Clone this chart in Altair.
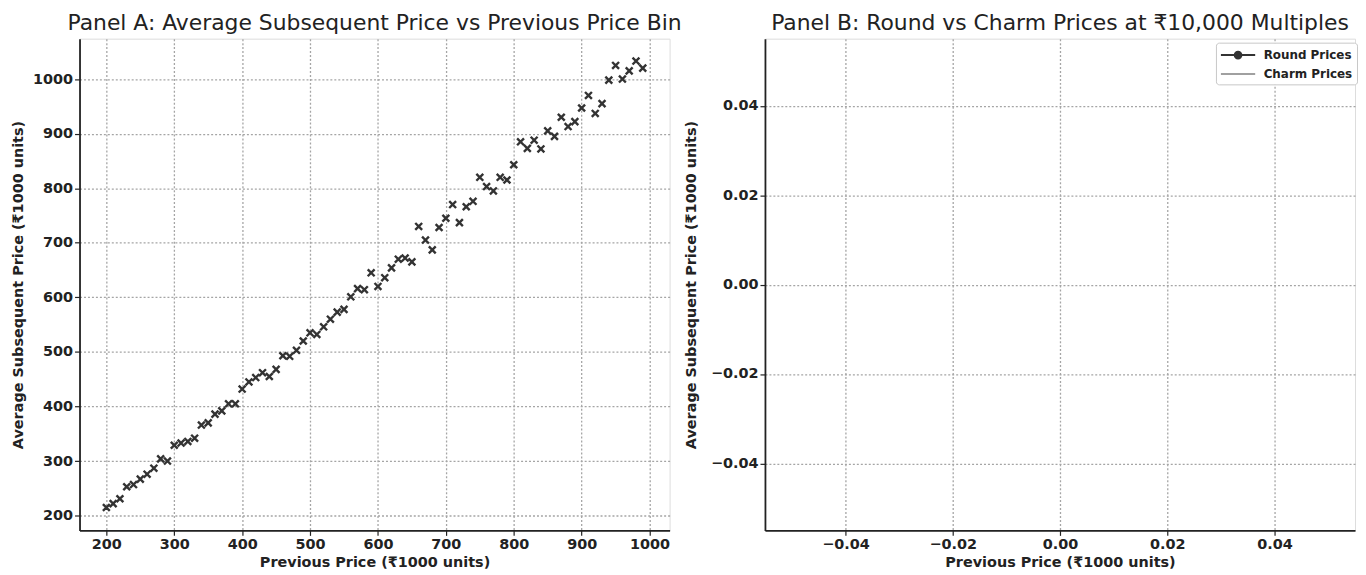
import altair as alt
import pandas as pd

# ---------------- data ----------------
prev_price = [200, 210, 220, 230, 240, 250, 260, 270, 280, 290,
              300, 310, 320, 330, 340, 350, 360, 370, 380, 390,
              400, 410, 420, 430, 440, 450, 460, 470, 480, 490,
              500, 510, 520, 530, 540, 550, 560, 570, 580, 590,
              600, 610, 620, 630, 640, 650, 660, 670, 680, 690,
              700, 710, 720, 730, 740, 750, 760, 770, 780, 790,
              800, 810, 820, 830, 840, 850, 860, 870, 880, 890,
              900, 910, 920, 930, 940, 950, 960, 970, 980, 990]
avg_subsequent = [215, 222, 231, 253, 257, 267, 276, 287, 304, 300,
                  329, 333, 336, 342, 366, 370, 386, 392, 405, 405,
                  432, 445, 453, 462, 455, 468, 493, 492, 503, 520,
                  535, 532, 546, 560, 573, 578, 601, 616, 614, 645,
                  620, 636, 654, 670, 672, 665, 730, 705, 687, 728,
                  745, 770, 737, 766, 776, 820, 803, 795, 820, 815,
                  843, 885, 873, 888, 872, 905, 895, 930, 913, 922,
                  947, 970, 937, 955, 998, 1025, 1000, 1015, 1033, 1020]

a_x_ticks = [200, 300, 400, 500, 600, 700, 800, 900, 1000]
a_y_ticks = [200, 300, 400, 500, 600, 700, 800, 900, 1000]

series_names = ["Round Prices", "Charm Prices"]
series_colors = ["#333333", "#a0a0a0"]
round_prices = []   # no data points in Panel B
charm_prices = []
b_ticks = [-0.04, -0.02, 0.0, 0.02, 0.04]

FONT = "DejaVu Sans"
GRID = dict(grid=True, gridColor="#a5a5a5", gridDash=[2, 2], gridWidth=1.3)
AX = dict(domainColor="#222222", domainWidth=1.8, tickColor="#222222", tickSize=5,
          tickWidth=1.2, labelPadding=2, labelFont=FONT, labelFontSize=14.5,
          labelFontWeight="bold", labelColor="#222222", titleFont=FONT,
          titleFontSize=14.5, titleFontWeight="bold", titleColor="#222222", **GRID)

# ---------------- Panel A ----------------
df_a = pd.DataFrame({"prev": prev_price, "avg": avg_subsequent})
x_marker = "M-1,-1L1,1M1,-1L-1,1"

panel_a = alt.Chart(df_a).mark_point(
    shape=x_marker, filled=False, strokeWidth=2.4, color="#333333", size=48, opacity=1
).encode(
    x=alt.X("prev:Q", scale=alt.Scale(domain=[160.5, 1029.5], nice=False, zero=False),
            axis=alt.Axis(values=a_x_ticks, format="d", title="Previous Price (₹1000 units)",
                          titlePadding=5, **AX)),
    y=alt.Y("avg:Q", scale=alt.Scale(domain=[173, 1074], nice=False, zero=False),
            axis=alt.Axis(values=a_y_ticks, format="d",
                          title="Average Subsequent Price (₹1000 units)",
                          titlePadding=7, **AX)),
).properties(
    width=594, height=495,
    title=alt.TitleParams("Panel A: Average Subsequent Price vs Previous Price Bin",
                          font=FONT, fontSize=22, fontWeight="normal", color="#222222",
                          offset=4),
)

# ---------------- Panel B ----------------
n = len(series_names)
df_b = pd.DataFrame({
    "series": series_names,
    "x": [None] * n,
    "y": [None] * n,
})
round_sym = "M-1,0L3.6,0M1.75,0A0.45,0.45 0 1,1 0.85,0A0.45,0.45 0 1,1 1.75,0Z"
charm_sym = "M-1,0L3.6,0"
leg = alt.Legend(title=None, orient="none", legendX=1144, legendY=4, labelFont=FONT,
                 labelFontSize=12, labelFontWeight="bold", labelColor="#222222",
                 labelOffset=27, symbolSize=225, symbolStrokeWidth=2,
                 strokeColor="#c8c8c8", cornerRadius=3, padding=4, fillColor="white",
                 rowPadding=3)

panel_b = alt.Chart(df_b).mark_point(filled=True, opacity=1).encode(
    x=alt.X("x:Q", scale=alt.Scale(domain=[-0.055, 0.055], nice=False, zero=False),
            axis=alt.Axis(values=b_ticks, format=".2f", title="Previous Price (₹1000 units)",
                          titlePadding=5, **AX)),
    y=alt.Y("y:Q", scale=alt.Scale(domain=[-0.055, 0.055], nice=False, zero=False),
            axis=alt.Axis(values=b_ticks, format=".2f",
                          title="Average Subsequent Price (₹1000 units)",
                          titlePadding=12, **AX)),
    fill=alt.Fill("series:N", scale=alt.Scale(domain=series_names, range=series_colors),
                  legend=leg),
    stroke=alt.Stroke("series:N", scale=alt.Scale(domain=series_names, range=series_colors),
                      legend=leg),
    shape=alt.Shape("series:N", scale=alt.Scale(domain=series_names,
                                                range=[round_sym, charm_sym]), legend=leg),
).properties(
    width=594, height=495,
    title=alt.TitleParams("Panel B: Round vs Charm Prices at ₹10,000 Multiples",
                          font=FONT, fontSize=22, fontWeight="normal", color="#222222",
                          offset=4),
)

chart = alt.hconcat(panel_a, panel_b, spacing=0).properties(
    padding={"left": 2, "top": 1, "right": 0, "bottom": 0}
).configure_view(stroke=None).configure(background="white")

chart.save("out.html", embed_options={"renderer": "svg", "actions": False})
